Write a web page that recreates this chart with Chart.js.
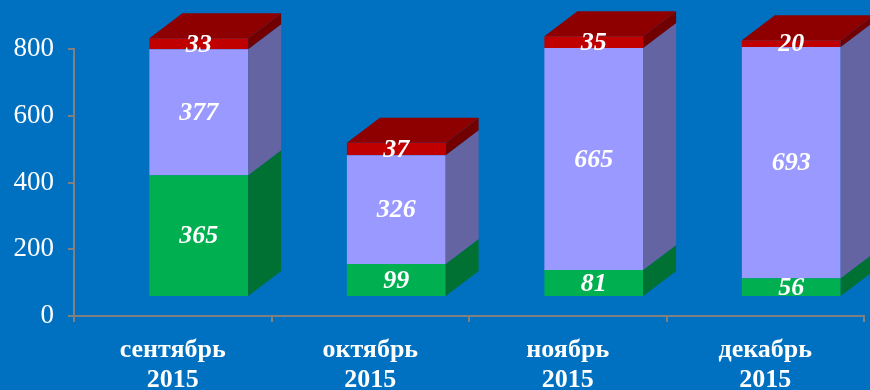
<!DOCTYPE html>
<html>
<head>
<meta charset="utf-8">
<script src="https://cdn.jsdelivr.net/npm/chart.js@4/dist/chart.umd.min.js"></script>
<style>
  html, body { margin: 0; padding: 0; background: #0070C0; }
  canvas { display: block; }
</style>
</head>
<body>
<canvas id="chart" width="870" height="390"></canvas>
<script>
// Monthly figures, stacked bottom to top
const months = [['сентябрь', '2015'], ['октябрь', '2015'], ['ноябрь', '2015'], ['декабрь', '2015']];
const series1 = [365, 99, 81, 56];
const series2 = [377, 326, 665, 693];
const series3 = [33, 37, 35, 20];
const yTicks = [0, 200, 400, 600, 800];

// Box projection: depth of each box and offset of the front plane from the axes
const DEPTH_X = 33, DEPTH_Y = 25;
const SHIFT_X = 26, SHIFT_Y = -19;

const boxes3d = {
  id: 'boxes3d',
  beforeDatasetsDraw(chart) {
    chart.ctx.save();
    chart.ctx.translate(SHIFT_X, SHIFT_Y);
  },
  afterDatasetsDraw(chart) {
    const ctx = chart.ctx;
    const sets = chart.data.datasets;
    sets.forEach((ds, di) => {
      const meta = chart.getDatasetMeta(di);
      meta.data.forEach((bar) => {
        const { x, y, base, width } = bar.getProps(['x', 'y', 'base', 'width'], true);
        const left = x - width / 2, right = x + width / 2;
        // right-hand side face
        ctx.fillStyle = ds.sideColor;
        ctx.beginPath();
        ctx.moveTo(right, base);
        ctx.lineTo(right, y);
        ctx.lineTo(right + DEPTH_X, y - DEPTH_Y);
        ctx.lineTo(right + DEPTH_X, base - DEPTH_Y);
        ctx.closePath();
        ctx.fill();
        // lid on the top segment
        if (di === sets.length - 1) {
          ctx.fillStyle = ds.topColor;
          ctx.beginPath();
          ctx.moveTo(left, y);
          ctx.lineTo(left + DEPTH_X, y - DEPTH_Y);
          ctx.lineTo(right + DEPTH_X, y - DEPTH_Y);
          ctx.lineTo(right, y);
          ctx.closePath();
          ctx.fill();
        }
      });
    });
    // value labels, centred on each front segment
    ctx.fillStyle = '#FFFFFF';
    ctx.font = 'italic bold 26px "Liberation Serif"';
    ctx.textAlign = 'center';
    ctx.textBaseline = 'middle';
    sets.forEach((ds, di) => {
      const meta = chart.getDatasetMeta(di);
      meta.data.forEach((bar, i) => {
        const { x, y, base } = bar.getProps(['x', 'y', 'base'], true);
        ctx.fillText(String(ds.data[i]), x, (y + base) / 2 + 1);
      });
    });
    ctx.restore();
  }
};

new Chart(document.getElementById('chart'), {
  type: 'bar',
  data: {
    labels: months,
    datasets: [
      { label: 'Ряд 1', data: series1, backgroundColor: '#00B050', sideColor: '#007033' },
      { label: 'Ряд 2', data: series2, backgroundColor: '#9999FF', sideColor: '#6464A3' },
      { label: 'Ряд 3', data: series3, backgroundColor: '#C00000', sideColor: '#720000', topColor: '#8E0000' }
    ]
  },
  options: {
    responsive: false,
    devicePixelRatio: 1,
    animation: false,
    events: [],
    layout: { padding: { top: 49, right: 6, left: 0, bottom: 0 } },
    datasets: { bar: { barPercentage: 0.5, categoryPercentage: 1, borderWidth: 0, clip: false } },
    plugins: { legend: { display: false }, tooltip: { enabled: false } },
    scales: {
      x: {
        stacked: true,
        afterFit(s) { s.height = 74; },
        grid: { drawOnChartArea: false, drawTicks: true, tickLength: 6, color: '#808080', lineWidth: 2 },
        border: { color: '#808080', width: 2 },
        ticks: {
          color: '#FFFFFF',
          padding: 13,
          font: { family: 'Liberation Serif', size: 26, weight: 'bold', lineHeight: 1.15 }
        }
      },
      y: {
        stacked: true,
        min: 0,
        max: 800,
        afterFit(s) { s.width = 74; },
        afterBuildTicks(s) { s.ticks = yTicks.map(v => ({ value: v })); },
        grid: { drawOnChartArea: false, drawTicks: true, tickLength: 6, color: '#808080', lineWidth: 2 },
        border: { color: '#808080', width: 2 },
        ticks: {
          color: '#FFFFFF',
          padding: 14,
          font: { family: 'Liberation Serif', size: 27 }
        }
      }
    }
  },
  plugins: [boxes3d]
});
</script>
</body>
</html>
